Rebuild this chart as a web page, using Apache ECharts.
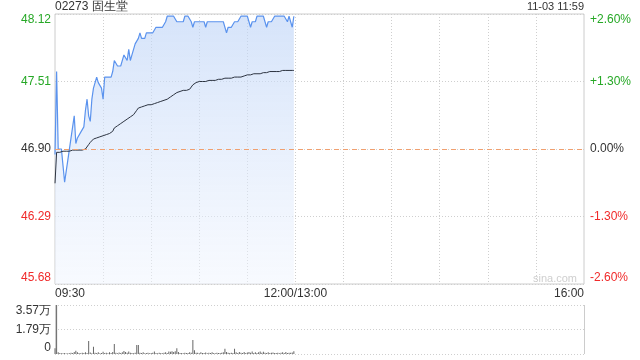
<!DOCTYPE html>
<html>
<head>
<meta charset="utf-8">
<script src="https://cdn.jsdelivr.net/npm/echarts@6/dist/echarts.min.js"></script>
<style>html,body{margin:0;padding:0;background:#fff}#c{width:640px;height:360px}</style>
</head>
<body>
<div id="c"></div>
<script>
var title = '02273 固生堂';
var stamp = '11-03 11:59';
var basePrice = 46.90;
var priceTicks = ['45.68','46.29','46.90','47.51','48.12'];
var pctTicks = ['-2.60%','-1.30%','0.00%','+1.30%','+2.60%'];
var volTicks = ['0','1.79万','3.57万'];
var axisLabels = ['09:30','12:00/13:00','16:00'];

// minute prices 09:30 .. 11:59
var price = [
46.85,47.60,46.90,46.90,46.90,46.75,46.60,46.60,46.80,46.80,
47.00,47.00,47.20,46.95,47.00,47.00,47.05,47.05,47.10,47.25,
47.35,47.20,47.15,47.35,47.45,47.45,47.55,47.50,47.50,47.45,
47.35,47.55,47.55,47.55,47.55,47.55,47.60,47.70,47.70,47.65,
47.65,47.65,47.65,47.75,47.75,47.70,47.80,47.70,47.75,47.80,
47.85,47.85,47.90,47.95,47.90,47.90,47.90,47.95,47.95,47.95,
47.95,47.95,47.95,48.00,48.00,48.00,48.00,48.00,48.00,48.05,
48.10,48.10,48.10,48.10,48.10,48.10,48.05,48.05,48.05,48.05,
48.05,48.10,48.10,48.10,48.10,48.05,48.00,48.05,48.05,48.05,
48.05,48.05,48.05,48.05,48.00,48.05,48.05,48.05,48.05,48.05,
48.05,48.05,48.05,48.05,48.05,48.05,48.05,47.95,48.00,48.00,
48.00,48.00,48.05,48.05,48.05,48.05,48.10,48.10,48.10,48.10,
48.10,48.05,48.00,48.05,48.05,48.05,48.10,48.10,48.10,48.10,
48.10,48.05,48.00,48.05,48.05,48.05,48.05,48.10,48.10,48.10,
48.10,48.10,48.10,48.10,48.10,48.05,48.10,48.05,48.00,48.10
];
var avgPrice = [
46.59,46.87,46.87,46.87,46.88,46.88,46.88,46.88,46.88,46.88,
46.88,46.89,46.89,46.89,46.89,46.89,46.89,46.89,46.90,46.90,
46.90,46.94,46.96,46.97,46.99,47.00,47.00,47.01,47.01,47.02,
47.02,47.03,47.03,47.04,47.04,47.05,47.06,47.09,47.10,47.11,
47.12,47.13,47.14,47.15,47.16,47.17,47.18,47.19,47.20,47.21,
47.22,47.25,47.27,47.27,47.28,47.28,47.29,47.29,47.30,47.30,
47.30,47.31,47.31,47.31,47.32,47.32,47.33,47.33,47.34,47.35,
47.35,47.36,47.37,47.38,47.39,47.40,47.41,47.41,47.42,47.42,
47.43,47.43,47.43,47.44,47.44,47.45,47.48,47.49,47.50,47.51,
47.51,47.51,47.51,47.51,47.51,47.52,47.52,47.52,47.52,47.52,
47.52,47.53,47.53,47.53,47.53,47.53,47.54,47.54,47.54,47.54,
47.54,47.55,47.55,47.55,47.55,47.55,47.55,47.56,47.56,47.56,
47.57,47.57,47.57,47.57,47.58,47.58,47.58,47.58,47.58,47.59,
47.59,47.59,47.59,47.59,47.60,47.60,47.60,47.60,47.60,47.60,
47.60,47.60,47.61,47.61,47.61,47.61,47.61,47.61,47.61,47.61
];
var volume = [
4100,35700,1200,800,600,500,700,400,600,500,
900,700,1500,2400,1200,800,600,1000,700,1300,
800,9500,1100,600,5300,900,700,1200,500,800,
1600,700,900,600,1200,800,1500,7300,900,600,
1100,700,1300,2200,1500,900,1800,1000,800,600,
900,6500,6500,900,700,1200,600,800,1000,600,
700,900,1900,800,600,1000,700,500,900,1200,
800,1900,1600,2000,1500,2000,4100,1500,800,700,
600,1000,800,700,1200,900,10200,2800,1000,900,
600,1200,800,700,1100,600,900,800,1300,700,
600,1000,800,700,900,1200,3800,1500,900,700,
1000,800,3800,1200,800,1500,900,700,1400,800,
1100,1500,900,1900,800,1300,700,1200,1800,900,
1700,1000,800,1200,700,900,1100,800,700,1000,
600,900,1200,800,1500,700,1000,900,1100,2000
];

// time categories 09:30-12:00/13:00-16:00
var times = [];
function pad(n){return (n<10?'0':'')+n;}
for (var m = 9*60+30; m < 12*60; m++) times.push(pad(Math.floor(m/60))+':'+pad(m%60));
times.push(axisLabels[1]);
for (var m2 = 13*60+1; m2 <= 16*60; m2++) times.push(pad(Math.floor(m2/60))+':'+pad(m2%60));

var baseCents = Math.round(basePrice*100);
var priceData = price.map(function(p){return Math.round(p*100)-baseCents;});
var avgData = avgPrice.map(function(p){return Math.round(p*100)-baseCents;});

var GREEN = '#26a826', RED = '#f02a2a', DARK = '#333';
var FONT = 'Liberation Sans, Arial, sans-serif';

var chart = echarts.init(document.getElementById('c'));
chart.setOption({
  animation: false,
  textStyle: {fontFamily: FONT},
  graphic: [
    {type:'text', left: 55, top: 1, style:{text: title, fontSize: 12, fill: DARK, fontFamily: FONT}},
    {type:'text', right: 56, top: 1, style:{text: stamp, fontSize: 11, fill: DARK, fontFamily: FONT}},
    {type:'text', left: 533, top: 273, style:{text: 'sina.com', fontSize: 11, fill: '#cfcfcf', fontFamily: FONT}}
  ],
  grid: [
    {left: 55, right: 56, top: 14, height: 270, show: true, borderColor: '#cccccc', borderWidth: 1},
    {left: 55, right: 56, top: 305, height: 49, show: false}
  ],
  xAxis: [
    {type:'category', gridIndex:0, data: times, boundaryGap:false,
     axisLine:{show:false}, axisTick:{show:false},
     axisLabel:{interval: function(i){return i===0||i===150||i===330;}, color: DARK, fontSize: 12, margin: 4,
       alignMinLabel:'left', alignMaxLabel:'right', showMinLabel:true, showMaxLabel:true, hideOverlap:false},
     splitLine:{show:true, interval: function(i){return i%30===0 && i!==0 && i!==330;}, lineStyle:{color:'#cfcfcf', type:[1,2]}}
    },
    {type:'category', gridIndex:1, data: times, boundaryGap:false,
     axisLine:{show:false}, axisTick:{show:false}, axisLabel:{show:false},
     splitLine:{show:true, interval: function(i){return i===0||i===330;}, lineStyle:{color:'#cccccc'}}
    }
  ],
  yAxis: [
    {type:'value', gridIndex:0, min:-122, max:122, interval:61, position:'left',
     axisLine:{show:false}, axisTick:{show:false},
     axisLabel:{fontSize: 12, margin: 4, verticalAlignMinLabel:'bottom', verticalAlignMaxLabel:'top',
       formatter: function(v){ var k = Math.round(v/61)+2; return priceTicks[k]; },
       color: function(v){ v = Number(v); var k = Math.round(v/61)+2; return k>2?GREEN:(k<2?RED:DARK);} },
     splitLine:{show:true, lineStyle:{color:'#cfcfcf', type:[1,2]}}
    },
    {type:'value', gridIndex:0, min:-122, max:122, interval:61, position:'right',
     axisLine:{show:false}, axisTick:{show:false},
     axisLabel:{fontSize: 12, margin: 6, verticalAlignMinLabel:'bottom', verticalAlignMaxLabel:'top',
       formatter: function(v){ var k = Math.round(v/61)+2; return pctTicks[k]; },
       color: function(v){ v = Number(v); var k = Math.round(v/61)+2; return k>2?GREEN:(k<2?RED:DARK);} },
     splitLine:{show:false}
    },
    {type:'value', gridIndex:1, min:0, max:35700, interval:17850,
     axisLine:{show:false}, axisTick:{show:false},
     axisLabel:{fontSize: 12, margin: 4, color: DARK, verticalAlignMinLabel:'bottom', verticalAlignMaxLabel:'top',
       formatter: function(v){ var k = Math.round(v/17850); return volTicks[k]; }},
     splitLine:{show:true, lineStyle:{color:'#cfcfcf', type:[1,2]}}
    }
  ],
  series: [
    {type:'line', xAxisIndex:0, yAxisIndex:0, data: priceData, symbol:'none',
     lineStyle:{color:'#5b93ee', width:1.2},
     areaStyle:{origin:'start', color: new echarts.graphic.LinearGradient(0,0,0,1,[{offset:0,color:'rgba(190,212,247,0.9)'},{offset:1,color:'rgba(240,245,254,0.7)'}])},
     markLine:{silent:true, symbol:'none', label:{show:false}, lineStyle:{color:'#f0a070', type:[5,4], width:1},
       data:[{yAxis:0}]}
    },
    {type:'line', xAxisIndex:0, yAxisIndex:0, data: avgData, symbol:'none',
     lineStyle:{color:'#2c3340', width:1}},
    {type:'bar', xAxisIndex:1, yAxisIndex:2, data: volume, barWidth:1, itemStyle:{color:'#666'}}
  ]
});
</script>
</body>
</html>
